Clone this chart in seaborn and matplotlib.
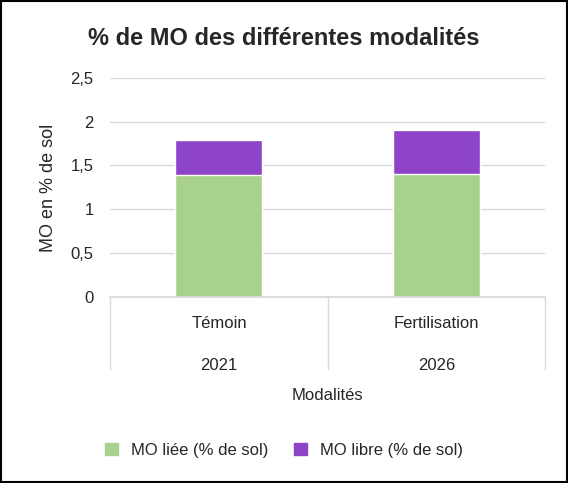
import matplotlib
matplotlib.use("Agg")
import matplotlib.pyplot as plt
import seaborn as sns
import pandas as pd
from matplotlib.patches import Patch, Rectangle

sns.set_theme(style="white")
plt.rcParams['font.family'] = ['Liberation Sans', 'DejaVu Sans']

# data
modalites = ["Témoin", "Fertilisation"]
annees = ["2021", "2026"]
mo_liee = [1.39, 1.40]
mo_libre = [0.40, 0.51]
green = "#a9d18e"
purple = "#8e44c8"

df = pd.DataFrame({"mod": modalites, "liee": mo_liee,
                   "total": [a + b for a, b in zip(mo_liee, mo_libre)]})

fig = plt.figure(figsize=(5.68, 4.83), dpi=100)
fig.add_artist(Rectangle((0.002, 0.002), 0.996, 0.996, transform=fig.transFigure,
                         fill=False, edgecolor="black", linewidth=1.5))
ax = fig.add_axes([0.194, 0.385, 0.766, 0.454])

sns.barplot(data=df, x="mod", y="total", color=purple, width=0.4, saturation=1, ax=ax)
sns.barplot(data=df, x="mod", y="liee", color=green, width=0.4, saturation=1, ax=ax)

ax.set_ylim(0, 2.5)
ax.set_xlim(-0.5, 1.5)
ax.set_yticks([0, 0.5, 1, 1.5, 2, 2.5])
ax.set_yticklabels(["0", "0,5", "1", "1,5", "2", "2,5"], fontsize=12)
ax.tick_params(axis="y", length=0, pad=12)
ax.yaxis.grid(True, color="#d9d9d9", linewidth=1)
ax.set_axisbelow(True)
for s in ["top", "right", "left"]:
    ax.spines[s].set_visible(False)
ax.spines["bottom"].set_color("#d9d9d9")
ax.set_xticks([])
ax.set_xlabel("")
ax.set_ylabel("MO en % de sol", fontsize=13, labelpad=10)

# multi-level category axis
tr = ax.get_xaxis_transform()
for i, (m, a) in enumerate(zip(modalites, annees)):
    ax.text(i, -0.12, m, transform=tr, ha="center", va="center", fontsize=12)
    ax.text(i, -0.31, a, transform=tr, ha="center", va="center", fontsize=12)
for x in [-0.5, 0.5, 1.5]:
    ax.plot([x, x], [0, -0.33], transform=tr, color="#d9d9d9", lw=1, clip_on=False)
ax.text(0.5, -0.45, "Modalités", transform=ax.transAxes, ha="center", va="center", fontsize=12)

fig.text(0.5, 0.92, "% de MO des différentes modalités", ha="center", va="center",
         fontsize=17, fontweight="bold")

handles = [Patch(color=green, label="MO liée (% de sol)"),
           Patch(color=purple, label="MO libre (% de sol)")]
fig.legend(handles=handles, loc="center", bbox_to_anchor=(0.5, 0.068), ncol=2,
           frameon=False, fontsize=12, handlelength=0.8, handleheight=0.8, columnspacing=1.5)

fig.savefig("out.png", dpi=100)
